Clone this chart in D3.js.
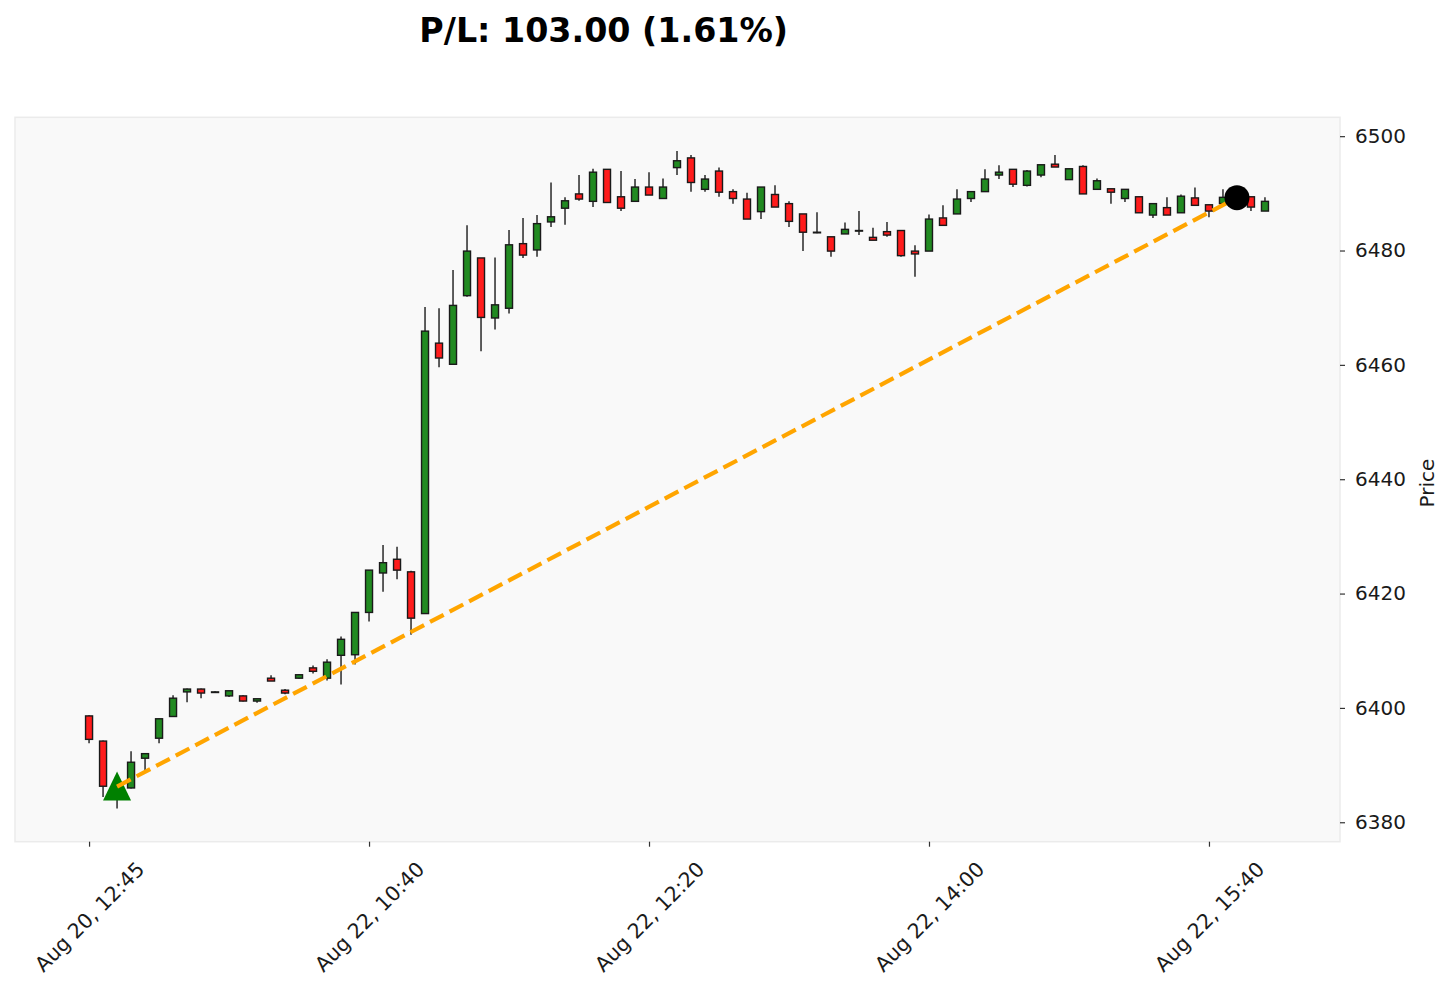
<!DOCTYPE html>
<html>
<head>
<meta charset="utf-8">
<script src="https://cdn.jsdelivr.net/npm/d3@7"></script>
<style>
  html, body { margin: 0; padding: 0; background: #ffffff; }
  svg { display: block; font-family: "DejaVu Sans", sans-serif; }
</style>
</head>
<body>
<svg id="chart" width="1450" height="990"></svg>
<script>
// ---- data ----
const opens  = [6398.6,6394.2,6386.3,6386.0,6391.2,6394.7,6398.5,6402.8,6403.3,6402.8,
                6402.1,6402.1,6401.2,6405.2,6403.1,6405.2,6407.0,6405.2,6409.2,6409.3,
                6416.7,6423.6,6426.0,6423.8,6416.5,6463.8,6460.1,6472.1,6478.7,6468.2,
                6469.9,6481.2,6480.1,6485.0,6487.4,6489.9,6488.6,6494.2,6489.4,6488.6,
                6491.1,6489.1,6494.5,6496.2,6490.7,6493.9,6490.3,6489.0,6486.8,6489.8,
                6488.2,6486.4,6483.2,6482.4,6482.9,6483.5,6482.3,6483.3,6483.5,6479.9,
                6479.9,6485.7,6486.4,6489.1,6490.3,6493.2,6494.2,6491.4,6493.2,6495.1,
                6492.4,6494.7,6490.7,6490.8,6489.1,6489.4,6486.2,6487.5,6486.6,6489.2,
                6488.0,6488.2,6489.3,6489.4,6486.9];
const highs  = [6398.7,6394.3,6388.0,6392.4,6392.0,6398.1,6402.2,6403.4,6403.4,6402.9,
                6403.0,6402.2,6401.6,6405.7,6403.3,6405.9,6407.4,6408.5,6412.5,6416.7,
                6424.1,6428.5,6428.2,6424.0,6470.1,6469.9,6476.6,6484.4,6478.7,6478.8,
                6483.6,6485.7,6486.2,6491.9,6489.3,6493.2,6494.3,6494.2,6493.9,6492.5,
                6493.7,6492.6,6497.4,6496.7,6493.2,6494.5,6490.7,6490.1,6491.1,6491.4,
                6488.6,6486.4,6486.7,6482.4,6484.9,6486.9,6484.0,6485.0,6483.5,6480.9,
                6486.3,6487.9,6490.7,6490.3,6494.2,6494.9,6494.2,6494.1,6495.0,6496.7,
                6494.3,6494.9,6492.6,6490.8,6490.7,6489.4,6488.2,6489.3,6489.8,6491.0,
                6488.0,6490.7,6489.8,6489.4,6489.3];
const lows   = [6393.8,6384.4,6382.4,6385.9,6389.1,6393.8,6398.4,6401.0,6401.7,6402.7,
                6401.9,6401.1,6400.9,6404.7,6402.4,6405.1,6406.0,6404.8,6404.1,6407.6,
                6415.1,6420.3,6422.5,6412.8,6416.5,6459.6,6460.1,6471.9,6462.4,6466.2,
                6469.0,6478.7,6478.9,6484.1,6484.5,6488.7,6487.6,6488.4,6486.9,6488.6,
                6489.7,6489.1,6493.2,6490.3,6490.3,6489.4,6488.2,6485.5,6485.5,6487.6,
                6484.1,6479.9,6483.0,6478.9,6482.9,6482.7,6481.8,6482.4,6478.9,6475.4,
                6479.9,6484.4,6486.4,6488.5,6490.3,6492.5,6491.1,6491.2,6492.8,6494.6,
                6492.4,6489.9,6490.7,6488.2,6488.5,6486.6,6485.7,6486.2,6486.6,6487.9,
                6485.8,6488.2,6488.9,6486.9,6486.9];
const closes = [6394.5,6386.3,6386.1,6390.5,6392.0,6398.1,6401.7,6403.3,6402.6,6402.8,
                6403.0,6401.2,6401.6,6404.7,6402.6,6405.8,6406.4,6408.0,6412.0,6416.7,
                6424.1,6425.4,6424.1,6415.7,6465.9,6461.2,6470.4,6479.9,6468.3,6470.5,
                6481.0,6479.2,6484.7,6485.9,6488.7,6489.0,6493.7,6488.4,6487.4,6491.1,
                6489.7,6491.1,6495.7,6491.9,6492.5,6490.2,6489.1,6485.5,6491.1,6487.6,
                6485.1,6483.2,6483.2,6479.9,6483.7,6483.5,6481.8,6482.7,6479.1,6479.4,
                6485.5,6484.4,6489.0,6490.3,6492.5,6493.7,6491.6,6493.9,6495.0,6494.6,
                6494.3,6489.9,6492.2,6490.2,6490.7,6486.6,6488.2,6486.2,6489.5,6487.9,
                6486.9,6489.3,6489.5,6487.6,6488.6];

const tickIndex  = [0, 20, 40, 60, 80];
const tickLabels = ["Aug 20, 12:45", "Aug 22, 10:40", "Aug 22, 12:20", "Aug 22, 14:00", "Aug 22, 15:40"];
const priceTicks = [6380, 6400, 6420, 6440, 6460, 6480, 6500];

const entryIndex = 2,  entryPrice = 6386.25;
const exitIndex  = 82, exitPrice  = 6489.25;
const titleText = "P/L: 103.00 (1.61%)";

// ---- layout ----
const svg = d3.select("#chart");
const plotLeft = 15, plotRight = 1340, plotTop = 117.3, plotBottom = 841.7;

const x = d3.scaleLinear().domain([-5.29, 89.36]).range([plotLeft, plotRight]);
const y = d3.scaleLinear().domain([6376.6, 6503.3]).range([plotBottom, plotTop]);

svg.append("rect")
  .attr("x", plotLeft).attr("y", plotTop)
  .attr("width", plotRight - plotLeft).attr("height", plotBottom - plotTop)
  .attr("fill", "#f9f9f9").attr("stroke", "#ebebeb").attr("stroke-width", 1.5);

const candles = opens.map((o, i) => ({i, o, h: highs[i], l: lows[i], c: closes[i]}));

const g = svg.append("g");
const bodyW = 7;

g.selectAll("line.wick").data(candles).join("line")
  .attr("class", "wick")
  .attr("x1", d => x(d.i)).attr("x2", d => x(d.i))
  .attr("y1", d => y(d.h)).attr("y2", d => y(d.l))
  .attr("stroke", "#1a1a1a").attr("stroke-width", 1.4);

g.selectAll("rect.body").data(candles).join("rect")
  .attr("class", "body")
  .attr("x", d => x(d.i) - bodyW / 2)
  .attr("width", bodyW)
  .attr("y", d => y(Math.max(d.o, d.c)))
  .attr("height", d => Math.max(0.6, Math.abs(y(d.o) - y(d.c))))
  .attr("fill", d => d.c >= d.o ? "#218a21" : "#ff1c1c")
  .attr("stroke", "#1a1a1a").attr("stroke-width", 1.4);

// entry marker
const ex = x(entryIndex), ey = y(entryPrice), s = 14;
svg.append("path")
  .attr("d", `M${ex},${ey - s - 1} L${ex + s},${ey + s} L${ex - s},${ey + s} Z`)
  .attr("fill", "#008000");

// trade line
svg.append("line")
  .attr("x1", x(entryIndex)).attr("y1", y(entryPrice))
  .attr("x2", x(exitIndex)).attr("y2", y(exitPrice))
  .attr("stroke", "#ffa500").attr("stroke-width", 4.2)
  .attr("stroke-dasharray", "15.4,6.7");

// exit marker
svg.append("circle")
  .attr("cx", x(exitIndex)).attr("cy", y(exitPrice)).attr("r", 12.5)
  .attr("fill", "#000000");

// y axis (right)
const yAxis = svg.append("g")
  .attr("transform", `translate(${plotRight},0)`)
  .call(d3.axisRight(y).tickValues(priceTicks).tickSize(5).tickPadding(10).tickFormat(d3.format("d")));
yAxis.select(".domain").remove();
yAxis.selectAll(".tick line").attr("stroke", "#333").attr("stroke-width", 1.2);
yAxis.selectAll(".tick text").attr("fill", "#1a1a1a").style("font-size", "20px")
  .style("font-family", "'DejaVu Sans', sans-serif");

// x axis
const xAxis = svg.append("g")
  .attr("transform", `translate(0,${plotBottom})`)
  .call(d3.axisBottom(x).tickValues(tickIndex).tickSize(5)
        .tickFormat((d, k) => tickLabels[k]));
xAxis.select(".domain").remove();
xAxis.selectAll(".tick line").attr("stroke", "#333").attr("stroke-width", 1.2);
xAxis.selectAll(".tick text")
  .attr("y", 0).attr("dy", "0.35em")
  .attr("transform", "translate(0,75) rotate(-45)")
  .attr("text-anchor", "middle")
  .attr("fill", "#1a1a1a").style("font-size", "20.5px")
  .style("font-family", "'DejaVu Sans', sans-serif");

// y label
svg.append("text")
  .attr("transform", "translate(1427,483) rotate(-90)")
  .attr("text-anchor", "middle").attr("dy", "0.35em")
  .attr("fill", "#1a1a1a").style("font-size", "20px")
  .text("Price");

// title
svg.append("text")
  .attr("x", 603.7).attr("y", 41.7)
  .attr("text-anchor", "middle")
  .style("font-size", "33.3px").style("font-weight", "bold")
  .attr("fill", "#000")
  .text(titleText);
</script>
</body>
</html>
